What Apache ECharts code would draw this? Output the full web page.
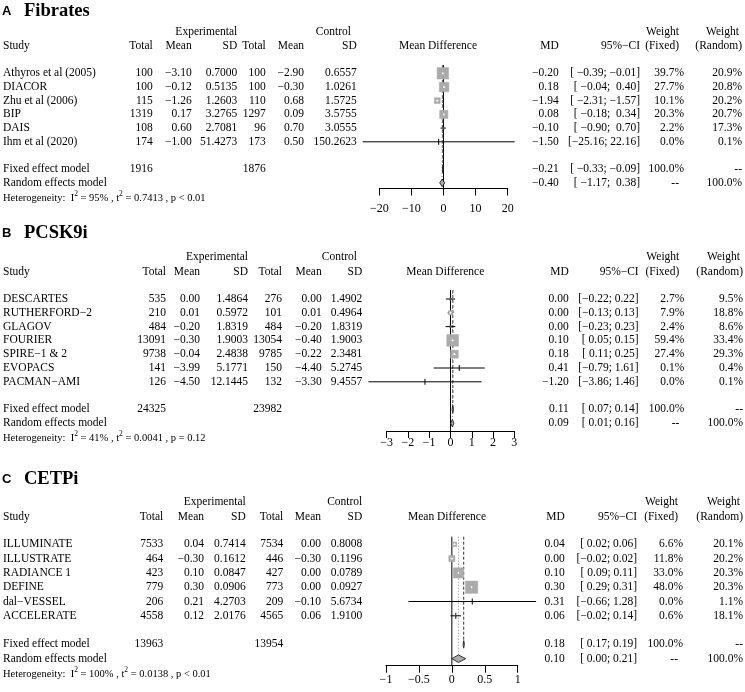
<!DOCTYPE html>
<html><head><meta charset="utf-8">
<script src="https://cdn.jsdelivr.net/npm/echarts/dist/echarts.min.js"></script>
<style>html,body{margin:0;padding:0;background:#fff}#c{width:745px;height:692px}</style>
</head><body><div id="c"></div>
<script>
// ---------------- DATA ----------------
// Panel A: Fibrates
const studiesA = ['Athyros et al (2005)','DIACOR','Zhu et al (2006)','BIP','DAIS','Ihm et al (2020)'];
const expTotalA = [100,100,115,1319,108,174];
const expMeanA = [-3.10,-0.12,-1.26,0.17,0.60,-1.00];
const expSDA = [0.7000,0.5135,1.2603,3.2765,2.7081,51.4273];
const ctlTotalA = [100,100,110,1297,96,173];
const ctlMeanA = [-2.90,-0.30,0.68,0.09,0.70,0.50];
const ctlSDA = [0.6557,1.0261,1.5725,3.5755,3.0555,150.2623];
const mdA = [-0.20,0.18,-1.94,0.08,-0.10,-1.50];
const loA = [-0.39,-0.04,-2.31,-0.18,-0.90,-25.16];
const hiA = [-0.01,0.40,-1.57,0.34,0.70,22.16];
const wFixedA = [39.7,27.7,10.1,20.3,2.2,0.0];
const wRandomA = [20.9,20.8,20.2,20.7,17.3,0.1];
const totalsA = [1916,1876];
const fixedA = [-0.21,-0.33,-0.09];
const randomA = [-0.40,-1.17,0.38];
const hetA = ['95%','0.7413','p < 0.01'];
const ticksA = [-20,-10,0,10,20];

// Panel B: PCSK9i
const studiesB = ['DESCARTES','RUTHERFORD\u22122','GLAGOV','FOURIER','SPIRE\u22121 & 2','EVOPACS','PACMAN\u2212AMI'];
const expTotalB = [535,210,484,13091,9738,141,126];
const expMeanB = [0.00,0.01,-0.20,-0.30,-0.04,-3.99,-4.50];
const expSDB = [1.4864,0.5972,1.8319,1.9003,2.4838,5.1771,12.1445];
const ctlTotalB = [276,101,484,13054,9785,150,132];
const ctlMeanB = [0.00,0.01,-0.20,-0.40,-0.22,-4.40,-3.30];
const ctlSDB = [1.4902,0.4964,1.8319,1.9003,2.3481,5.2745,9.4557];
const mdB = [0.00,0.00,0.00,0.10,0.18,0.41,-1.20];
const loB = [-0.22,-0.13,-0.23,0.05,0.11,-0.79,-3.86];
const hiB = [0.22,0.13,0.23,0.15,0.25,1.61,1.46];
const wFixedB = [2.7,7.9,2.4,59.4,27.4,0.1,0.0];
const wRandomB = [9.5,18.8,8.6,33.4,29.3,0.4,0.1];
const totalsB = [24325,23982];
const fixedB = [0.11,0.07,0.14];
const randomB = [0.09,0.01,0.16];
const hetB = ['41%','0.0041','p = 0.12'];
const ticksB = [-3,-2,-1,0,1,2,3];

// Panel C: CETPi
const studiesC = ['ILLUMINATE','ILLUSTRATE','RADIANCE 1','DEFINE','dal\u2212VESSEL','ACCELERATE'];
const expTotalC = [7533,464,423,779,206,4558];
const expMeanC = [0.04,-0.30,0.10,0.30,0.21,0.12];
const expSDC = [0.7414,0.1612,0.0847,0.0906,4.2703,2.0176];
const ctlTotalC = [7534,446,427,773,209,4565];
const ctlMeanC = [0.00,-0.30,0.00,0.00,-0.10,0.06];
const ctlSDC = [0.8008,0.1196,0.0789,0.0927,5.6734,1.9100];
const mdC = [0.04,0.00,0.10,0.30,0.31,0.06];
const loC = [0.02,-0.02,0.09,0.29,-0.66,-0.02];
const hiC = [0.06,0.02,0.11,0.31,1.28,0.14];
const wFixedC = [6.6,11.8,33.0,48.0,0.0,0.6];
const wRandomC = [20.1,20.2,20.3,20.3,1.1,18.1];
const totalsC = [13963,13954];
const fixedC = [0.18,0.17,0.19];
const randomC = [0.10,0.00,0.21];
const hetC = ['100%','0.0138','p < 0.01'];
const ticksC = [-1,-0.5,0,0.5,1];

// ---------------- LAYOUT ----------------
const SERIF = "'Liberation Serif','Times New Roman',serif";
const SANS = "'Liberation Sans',Arial,sans-serif";
const FS = 11.5;
const layouts = [
  {letter:'A', title:'Fibrates', x0:379.3, x1:507.7, top:65, axis:188.5, row0:73.3, step:13.7, titleY:11, h1:32.4, h2:45.8,
   cols:[152.7,191.7,237.3,265.7,304,356.7,558.7,640,684,742], ctlHdr:351, mdHdr:438, margin:14, sq:11.5},
  {letter:'B', title:'PCSK9i', x0:386.7, x1:514.3, top:290, axis:431, row0:299, step:13.8, titleY:233.5, h1:256.7, h2:271.5,
   cols:[166,200,248,282,321.7,362.3,568.7,638.7,684.3,743], ctlHdr:357, mdHdr:445.3, margin:6, sq:11.7},
  {letter:'C', title:'CETPi', x0:386, x1:517.7, top:536.7, axis:665.7, row0:544.3, step:14.3, titleY:479, h1:501.7, h2:516.7,
   cols:[163.3,204,245.7,283.3,321,362.3,564.7,637,683,743], ctlHdr:362.3, mdHdr:447, margin:8, sq:12.3}
];
const panels = [
  {studies:studiesA, expTotal:expTotalA, expMean:expMeanA, expSD:expSDA, ctlTotal:ctlTotalA, ctlMean:ctlMeanA, ctlSD:ctlSDA,
   md:mdA, lo:loA, hi:hiA, wF:wFixedA, wR:wRandomA, totals:totalsA, fixed:fixedA, random:randomA, het:hetA, ticks:ticksA},
  {studies:studiesB, expTotal:expTotalB, expMean:expMeanB, expSD:expSDB, ctlTotal:ctlTotalB, ctlMean:ctlMeanB, ctlSD:ctlSDB,
   md:mdB, lo:loB, hi:hiB, wF:wFixedB, wR:wRandomB, totals:totalsB, fixed:fixedB, random:randomB, het:hetB, ticks:ticksB},
  {studies:studiesC, expTotal:expTotalC, expMean:expMeanC, expSD:expSDC, ctlTotal:ctlTotalC, ctlMean:ctlMeanC, ctlSD:ctlSDC,
   md:mdC, lo:loC, hi:hiC, wF:wFixedC, wR:wRandomC, totals:totalsC, fixed:fixedC, random:randomC, het:hetC, ticks:ticksC}
];

const SQ_COL = '#ababab';
const minus = s => String(s).replace(/-/g, '\u2212');
const fx = (v, d) => minus(v.toFixed(d));

function forestRender(sqMax, wMax) {
  return function (params, api) {
    const md = api.value(0), lo = api.value(1), hi = api.value(2), row = api.value(3), w = api.value(4), kind = api.value(5);
    const pm = api.coord([md, row]), pl = api.coord([lo, row]), ph = api.coord([hi, row]);
    const y = pm[1];
    const ch = [];
    if (kind === 0) {
      const s = sqMax * Math.sqrt(w / wMax);
      ch.push({type:'line', shape:{x1:pl[0], y1:y, x2:ph[0], y2:y}, style:{stroke:'#000', lineWidth:1}});
      if (s >= 4) {
        ch.push({type:'rect', shape:{x:pm[0]-s/2, y:y-s/2, width:s, height:s}, style:{fill:SQ_COL, stroke:SQ_COL, lineWidth:0.5}});
        const a = Math.max(pl[0], pm[0]-s/2+1), b = Math.min(ph[0], pm[0]+s/2-1);
        if (b > a) ch.push({type:'line', shape:{x1:a, y1:y, x2:b, y2:y}, style:{stroke:'#fff', lineWidth:1}});
        ch.push({type:'line', shape:{x1:pm[0], y1:y-1, x2:pm[0], y2:y+1}, style:{stroke:'#fff', lineWidth:1}});
      } else {
        ch.push({type:'line', shape:{x1:pm[0], y1:y-3, x2:pm[0], y2:y+3}, style:{stroke:'#000', lineWidth:1}});
        if (s > 1) ch.push({type:'rect', shape:{x:pm[0]-s/2, y:y-s/2, width:s, height:s}, style:{fill:'#555'}});
      }
    } else {
      const h = 3.8;
      ch.push({type:'polygon', shape:{points:[[pl[0], y], [pm[0], y-h], [ph[0], y], [pm[0], y+h]]},
               style:{fill:SQ_COL, stroke:'#222', lineWidth:0.9}});
    }
    return {type:'group', children:ch};
  };
}
function refRender(params, api) {
  const x = api.value(0), row = api.value(1), kind = api.value(2);
  const cs = params.coordSys;
  const px = api.coord([x, 0])[0];
  const yEnd = kind === 0 ? cs.y + cs.height : api.coord([x, row])[1];
  const style = kind === 0 ? {stroke:'#000', lineWidth:1}
    : kind === 1 ? {stroke:'#333', lineWidth:1, lineDash:[3,2]}
    : {stroke:'#888', lineWidth:1, lineDash:[1,2]};
  return {type:'line', shape:{x1:px, y1:cs.y, x2:px, y2:yEnd}, style:style};
}

const grids = [], xAxes = [], yAxes = [], series = [];
panels.forEach((P, i) => {
  const L = layouts[i];
  const n = P.studies.length;
  grids.push({left:L.x0, top:L.top, width:L.x1 - L.x0, height:L.axis - L.top, containLabel:false});
  xAxes.push({gridIndex:i, type:'value', min:P.ticks[0], max:P.ticks[P.ticks.length-1], interval:P.ticks[1]-P.ticks[0],
    splitLine:{show:false}, axisLine:{onZero:false, lineStyle:{color:'#000', width:1}},
    axisTick:{length:7, lineStyle:{color:'#000', width:1}},
    axisLabel:{margin:L.margin, color:'#000', fontFamily:SERIF, fontSize:12, showMinLabel:true, showMaxLabel:true,
      formatter: v => minus(v)}});
  yAxes.push({gridIndex:i, type:'value', inverse:true, min:(L.top - L.row0)/L.step, max:(L.axis - L.row0)/L.step, show:false});
  const wMax = Math.max(...P.wF);
  const fd = P.md.map((m, k) => [m, P.lo[k], P.hi[k], k, P.wF[k], 0]);
  fd.push([P.fixed[0], P.fixed[1], P.fixed[2], n + 1, 0, 1]);
  fd.push([P.random[0], P.random[1], P.random[2], n + 2, 0, 2]);
  series.push({type:'custom', xAxisIndex:i, yAxisIndex:i, renderItem:refRender, clip:false, silent:true, z:1,
    encode:{x:0, y:1}, data:[[0, 0, 0], [P.fixed[0], n + 1, 1], [P.random[0], n + 2, 2]]});
  series.push({type:'custom', xAxisIndex:i, yAxisIndex:i, renderItem:forestRender(L.sq, wMax), clip:false, silent:true, z:2,
    encode:{x:[0,1,2], y:3}, data:fd});
});

const chart = echarts.init(document.getElementById('c'), null, {renderer:'canvas', width:745, height:692});
chart.setOption({animation:false, backgroundColor:'#fff', grid:grids, xAxis:xAxes, yAxis:yAxes, series:series});

// ---------------- TEXT TABLE ----------------
function T(text, x, y, align, opt) {
  opt = opt || {};
  const st = {text:text, fill:'#000', fontFamily:opt.family || SERIF, fontSize:opt.size || FS, fontWeight:opt.weight || 'normal',
    align:align, verticalAlign:'middle', textAlign:align, textVerticalAlign:'middle'};
  if (opt.rich) st.rich = opt.rich;
  return {type:'text', x:x, y:y, silent:true, style:st};
}
function ciStr(lo, hi, loW, hiW) {
  const a = fx(lo, 2), b = fx(hi, 2);
  return '[' + ' '.repeat(Math.max(0, loW - a.length)) + a + '; ' + ' '.repeat(Math.max(0, hiW - b.length)) + b + ']';
}
const g = [];
panels.forEach((P, i) => {
  const L = layouts[i], c = L.cols, n = P.studies.length;
  const ry = r => chart.convertToPixel({yAxisIndex:i}, r);
  // title
  g.push(T(L.letter, 2, L.titleY, 'left', {family:SANS, weight:'bold', size:13}));
  g.push(T(L.title, 24, L.titleY, 'left', {weight:'bold', size:18.5}));
  // headers
  g.push(T('Experimental', c[2], L.h1, 'right'));
  g.push(T('Control', L.ctlHdr, L.h1, 'right'));
  g.push(T('Weight', c[8] - 5, L.h1, 'right'));
  g.push(T('Weight', c[9] - 3, L.h1, 'right'));
  g.push(T('Study', 3, L.h2, 'left'));
  ['Total','Mean','SD','Total','Mean','SD'].forEach((h, k) => g.push(T(h, c[k], L.h2, 'right')));
  g.push(T('Mean Difference', L.mdHdr, L.h2, 'center'));
  g.push(T('MD', c[6], L.h2, 'right'));
  g.push(T('95%\u2212CI', c[7], L.h2, 'right'));
  g.push(T('(Fixed)', c[8] - 5, L.h2, 'right'));
  g.push(T('(Random)', c[9], L.h2, 'right'));
  // widths for CI padding
  const allLo = P.lo.concat([P.fixed[1], P.random[1]]).map(v => fx(v, 2).length);
  const allHi = P.hi.concat([P.fixed[2], P.random[2]]).map(v => fx(v, 2).length);
  const loW = Math.max(...allLo), hiW = Math.max(...allHi);
  // rows
  P.studies.forEach((s, k) => {
    const y = ry(k);
    g.push(T(s, 3, y, 'left'));
    g.push(T(String(P.expTotal[k]), c[0], y, 'right'));
    g.push(T(fx(P.expMean[k], 2), c[1], y, 'right'));
    g.push(T(fx(P.expSD[k], 4), c[2], y, 'right'));
    g.push(T(String(P.ctlTotal[k]), c[3], y, 'right'));
    g.push(T(fx(P.ctlMean[k], 2), c[4], y, 'right'));
    g.push(T(fx(P.ctlSD[k], 4), c[5], y, 'right'));
    g.push(T(fx(P.md[k], 2), c[6], y, 'right'));
    g.push(T(ciStr(P.lo[k], P.hi[k], loW, hiW), c[7], y, 'right'));
    g.push(T(P.wF[k].toFixed(1) + '%', c[8], y, 'right'));
    g.push(T(P.wR[k].toFixed(1) + '%', c[9], y, 'right'));
  });
  const yf = ry(n + 1), yr = ry(n + 2), yh = ry(n + 3);
  g.push(T('Fixed effect model', 3, yf, 'left'));
  g.push(T(String(P.totals[0]), c[0], yf, 'right'));
  g.push(T(String(P.totals[1]), c[3], yf, 'right'));
  g.push(T(fx(P.fixed[0], 2), c[6], yf, 'right'));
  g.push(T(ciStr(P.fixed[1], P.fixed[2], loW, hiW), c[7], yf, 'right'));
  g.push(T('100.0%', c[8], yf, 'right'));
  g.push(T('--', c[9], yf, 'right'));
  g.push(T('Random effects model', 3, yr, 'left'));
  g.push(T(fx(P.random[0], 2), c[6], yr, 'right'));
  g.push(T(ciStr(P.random[1], P.random[2], loW, hiW), c[7], yr, 'right'));
  g.push(T('--', c[8] - 5, yr, 'right'));
  g.push(T('100.0%', c[9], yr, 'right'));
  const het = '{a|Heterogeneity:  I}{s|2}{a| = ' + P.het[0] + ' , t}{s|2}{a| = ' + P.het[1] + ' , ' + P.het[2] + '}';
  g.push(T(het, 3, yh, 'left', {size:10.5, rich:{
    a:{fontFamily:SERIF, fontSize:10.5, fill:'#000', color:'#000', lineHeight:14, verticalAlign:'bottom'},
    s:{fontFamily:SERIF, fontSize:7.5, fill:'#000', color:'#000', lineHeight:14, verticalAlign:'top'}}}));
});
chart.setOption({graphic:{elements:g}});
</script>
</body></html>
